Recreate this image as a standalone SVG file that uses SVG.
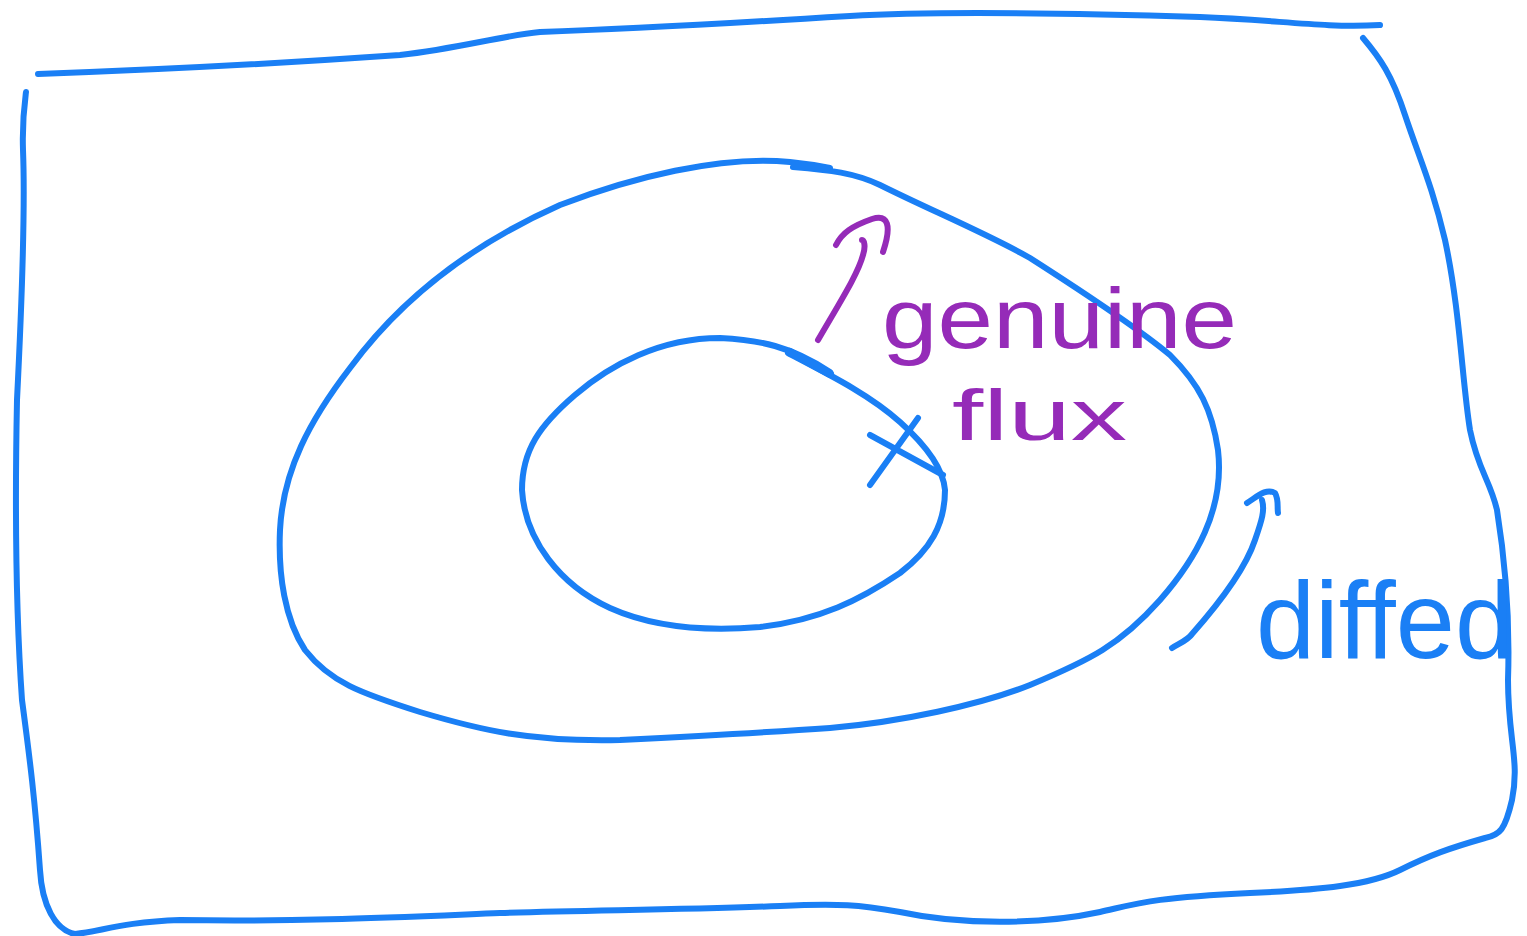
<svg xmlns="http://www.w3.org/2000/svg" width="1527" height="936" viewBox="0 0 1527 936">
<style>
.b{fill:none;stroke:#1a7ff5;stroke-width:6;stroke-linecap:round;stroke-linejoin:round}
.p{fill:none;stroke:#952bb8;stroke-width:6;stroke-linecap:round;stroke-linejoin:round}
.tp{fill:#952bb8;font-family:"Liberation Sans",Arial,sans-serif}
.tb{fill:#1a7ff5;font-family:"Liberation Sans",Arial,sans-serif}
</style>
<rect width="1527" height="936" fill="#fff"/>
<g id="frame">
<path class="b" d="M38,74 C150,70 300,62 400,55 C460,48 500,36 540,32 C650,28 750,22 850,16 C950,10 1100,14 1200,17 C1280,20 1320,28 1380,25"/>
<path class="b" d="M1363,38 C1380,58 1392,75 1405,115 C1420,160 1432,185 1445,240 C1460,310 1462,380 1470,430 C1478,470 1490,480 1497,510 C1505,560 1510,620 1508,680 C1508,740 1520,760 1512,800 C1505,830 1500,835 1485,838 C1450,848 1430,855 1400,870 C1370,885 1320,890 1250,893 C1150,898 1140,903 1100,912 C1040,925 960,925 900,912 C860,905 840,903 780,906 C680,910 600,910 500,913 C400,917 300,922 180,920 C120,922 100,932 75,934 C55,930 42,905 40,870 C35,800 30,760 22,700 C15,600 15,500 17,400 C22,300 25,200 23,150 C22,120 25,100 26,92"/>
</g>
<g id="outer-loop">
<path class="b" d="M793,167 C830,170 855,173 880,185 C930,210 990,235 1030,258 C1080,290 1140,330 1170,355 C1200,385 1212,410 1218,450 C1225,510 1195,560 1160,600 C1120,645 1090,660 1030,685 C980,705 900,722 830,728 C760,733 700,736 620,740 C530,742 480,730 420,712 C360,693 330,682 305,650 C285,620 278,575 280,530 C283,470 310,420 350,368 C400,300 470,245 560,205 C630,178 720,155 790,162 C810,164 820,166 830,168"/>
</g>
<g id="inner-loop">
<path class="b" d="M830,372 C790,346 760,340 720,338 C660,338 610,365 575,395 C540,425 522,450 522,490 C525,540 560,585 610,608 C650,626 700,632 760,627 C820,620 860,600 900,573 C930,550 945,525 945,490 C943,465 920,440 900,422 C870,395 830,375 788,353"/>
<path class="b" d="M790,352 L830,374" style="stroke-width:8"/>
</g>
<g id="cross">
<path class="b" d="M870,435 L943,475 M918,418 L870,485"/>
</g>
<g id="genuine-flux">
<path class="p" d="M818,340 C840,302 858,274 863,255 C866,246 864,240 862,240 M836,245 C842,233 852,226 872,219 C888,214 892,225 883,252"/>
<text class="tp" x="882" y="348" font-size="86" textLength="355" lengthAdjust="spacingAndGlyphs">genuine</text>
<text class="tp" x="952" y="440" font-size="72" textLength="175" lengthAdjust="spacingAndGlyphs">flux</text>
</g>
<g id="diffed">
<path class="b" d="M1172,648 C1180,643 1188,640 1192,634 C1215,608 1245,570 1255,540 C1262,520 1265,510 1262,500 M1247,503 C1258,496 1266,488 1275,493 C1279,500 1277,507 1278,513"/>
<text class="tb" x="1256" y="658" font-size="110" textLength="258" lengthAdjust="spacingAndGlyphs">diffed</text>
</g>
</svg>
